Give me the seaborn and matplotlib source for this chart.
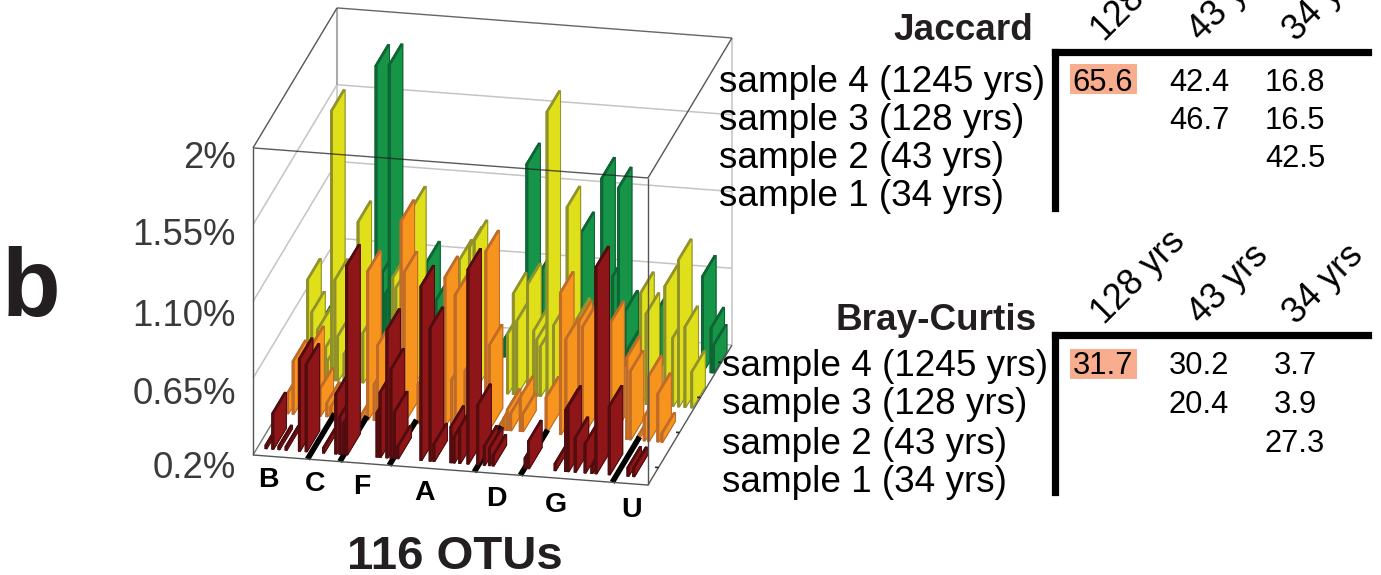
import numpy as np
import pandas as pd
import matplotlib
matplotlib.use("Agg")
import matplotlib.pyplot as plt
from matplotlib.colors import ListedColormap
from matplotlib.patches import Rectangle
import seaborn as sns

# ---------- data ----------
s1_otu = [2.3, 4.3, 6.1, 8.2, 12.1, 14.1, 19.2, 22.8, 24, 25, 26, 34.9, 35.8, 37.8, 39, 40, 41, 47.8, 50.5, 51.6,
          56.6, 57.5, 59.2, 61.6, 64.5, 66.4, 67.9, 69, 78.4, 79.4, 87.2, 90.3, 91, 93.1, 96, 98, 99.2, 103.1, 108.6, 110.3]
s1_val = [.22, .41, .22, .22, .74, .71, .23, .55, .42, .38, 1.31, .46, .58, .95, .72, .47, .27, 1.22, .98, .3,
          .41, .35, .41, 1.34, .55, .31, .3, .26, .26, .36, .24, .56, .58, .4, .37, .24, 1.41, .6, .25, .25]
s2_otu = [2.5, 4.1, 9.3, 12, 14, 15.2, 24, 26, 27.9, 28.9, 35.8, 36.7, 40.8, 48.7, 50.6, 51.7, 54.6, 60.7, 61.7,
          64.6, 66, 67, 68, 70.8, 71.5, 78.4, 82.6, 84.2, 88, 89.1, 97.4, 102.1, 103.1, 105.3, 107.2, 108.5, 111.2, 112.4]
s2_val = [.32, .51, .6, .36, .28, .26, .22, 1.07, .41, .64, 1.38, 1.08, .43, 1.07, .47, .97, .53, 1.24, .69,
          .22, .27, .32, .3, .4, .3, .41, 1.03, .76, .87, .84, .88, .68, .6, .22, .34, .58, .48, .25]
s3_otu = [2.2, 3.4, 5.1, 7.5, 8, 9.2, 10.2, 11, 12.9, 17, 18.4, 27.2, 28.1, 33, 46.7, 49.7, 51.1, 60.9, 62.6, 63.6,
          66.8, 68.6, 69.5, 70.5, 72.5, 74.4, 78.4, 81.3, 82, 100, 101.6, 107.1, 109.4, 111.1, 113, 115]
s3_val = [.78, .59, .49, .39, .31, 1.78, .79, .46, .36, 1.14, .49, .83, .77, 1.25, .96, 1.04, 1.08, .55, .79, .63,
          .85, .58, .53, .49, 1.87, .62, 1.32, .67, .62, .85, .73, .9, .6, 1.06, .67, .41]
s4_otu = [1.4, 16.1, 18, 19, 20, 31, 33.7, 53.7, 60.4, 64.8, 76.3, 82.4, 85.6, 87.3, 89.2, 90, 99.3, 112, 114.5, 115.2]
s4_val = [.37, 1.85, .64, .52, 1.86, .72, .5, .3, 1.34, .73, .96, 1.29, .72, 1.24, .52, .3, .56, .76, .46, .36]
phylum_edges = [16, 25.5, 40, 65, 78.5, 105.5]
phylum_names = ["B", "C", "F", "A", "D", "G", "U"]
z_ticks = [0.2, 0.65, 1.10, 1.55, 2.0]
z_labels = ["0.2%", "0.65%", "1.10%", "1.55%", "2%"]

samples = ["sample 4 (1245 yrs)", "sample 3 (128 yrs)", "sample 2 (43 yrs)", "sample 1 (34 yrs)"]
cols = ["128 yrs", "43 yrs", "34 yrs"]
jaccard = [[65.6, 42.4, 16.8], [np.nan, 46.7, 16.5], [np.nan, np.nan, 42.5], [np.nan, np.nan, np.nan]]
bray = [[31.7, 30.2, 3.7], [np.nan, 20.4, 3.9], [np.nan, np.nan, 27.3], [np.nan, np.nan, np.nan]]

# ---------- style ----------
sns.set_theme(style="white")
plt.rcParams["font.family"] = ["Liberation Sans", "DejaVu Sans"]
INK = "#231f20"
W, H = 1381, 575
fig = plt.figure(figsize=(W / 100, H / 100), dpi=100, facecolor="white")

# ---------- 3D bars with an oblique projection ----------
ax = fig.add_axes([200 / W, 0, 575 / W, 1], projection="3d")
ax.set_axis_off()
ax.patch.set_alpha(0)
ax.computed_zorder = False

P = np.array([
    [3.405, 21.0, 0.0, 253.0],
    [-0.259, 35.0, 170.6, H - 455.0 - 0.2 * 170.6],
    [-0.05, 0.2, -0.01, -3.0],
    [0.0, 0.0, 0.0, 1.0],
])


def oblique_proj():
    ax.apply_aspect()
    t = ax.transData.get_matrix()
    T = np.array([[t[0, 0], t[0, 1], 0, t[0, 2]],
                  [t[1, 0], t[1, 1], 0, t[1, 2]],
                  [0, 0, 1, 0],
                  [0, 0, 0, 1.0]])
    return np.linalg.inv(T) @ P


ax.get_proj = oblique_proj

z_order = [10]


def line(xs, ys, zs, **kw):
    z_order[0] += 1
    ax.plot(xs, ys, zs, zorder=z_order[0], clip_on=False, solid_capstyle="butt", **kw)


BACK = dict(color="#c4c4c4", lw=1.1)
for z in z_ticks[1:-1]:
    line([0, 116], [4, 4], [z, z], **BACK)
    line([0, 0], [0, 4], [z, z], **BACK)
line([0, 116], [4, 4], [.2, .2], **BACK)
line([116, 116], [4, 4], [.2, 2], **BACK)
line([0, 0], [4, 4], [1.55, 2], color="#aaaaaa", lw=1.5)
line([0, 0], [4, 4], [.2, 1.55], color="#c4c4c4", lw=1.1)
line([0, 116], [4, 4], [2, 2], color="#666666", lw=1)
line([0, 0], [0, 4], [2, 2], color="#555555", lw=1)
line([116, 116], [0, 4], [2, 2], color="#555555", lw=1)
line([0, 0], [0, 4], [.2, .2], color="#777777", lw=1)

BAR_D = 0.6
BAR_W = 0.55
rows = [
    (s4_otu, s4_val, 3, "#169447", "#0f6b36", "#0e6433"),
    (s3_otu, s3_val, 2, "#dfe01a", "#8f8f2a", "#93932c"),
    (s2_otu, s2_val, 1, "#f7941d", "#c96a25", "#bd6c2b"),
    (s1_otu, s1_val, 0, "#8e1619", "#5a0e10", "#4f0c0e"),
]
for otu, val, row, face, dark, edge in rows:
    if row == 0:
        for e in phylum_edges:
            line([e, e], [0, 1.3], [.2, .2], color="black", lw=4)
    for x, v in sorted(zip(otu, val)):
        z_order[0] += 1
        # faces: bottom, top, front, back, left, right
        ax.bar3d([x], [row + 0.2], [0.2], BAR_W, BAR_D, v - 0.2,
                 color=[dark, dark, dark, dark, dark, face],
                 edgecolor=edge, linewidth=0.7, shade=False, zorder=z_order[0])

FRONT = dict(color="#222222", lw=1, alpha=0.75)
line([0, 116], [0, 0], [2, 2], **FRONT)
line([0, 0], [0, 0], [.2, 2], color="#555555", lw=1)
line([116, 116], [0, 0], [.2, 2], color="#555555", lw=1)
line([0, 116], [0, 0], [.2, .2], color="#555555", lw=1)
line([116, 116], [0, 4], [.2, .2], color="#555555", lw=1)
for y in [.5, 1.5, 2.5, 3.5]:
    line([115, 116], [y, y], [.2, .2], color="#222222", lw=1.2)


def px_text(x, y, s, **kw):
    fig.text(x / W, 1 - y / H, s, **kw)


for yp, lab in zip([468, 395, 316, 235, 158], z_labels):
    px_text(236, yp, lab, ha="right", va="center", fontsize=26.3, color="#3a3a3c")
for xp, yp, name in zip([268, 315, 362, 425, 496, 556, 632], [480, 484, 487, 493, 499, 505, 510], phylum_names):
    px_text(xp, yp, name, ha="center", va="center", fontsize=20.5, fontweight="bold", color="black")
px_text(455, 557, "116 OTUs", ha="center", va="center", fontsize=34, fontweight="bold", color=INK)
px_text(31, 291, "b", ha="center", va="center", fontsize=69, fontweight="bold", color=INK)
px_text(1033, 30, "Jaccard", ha="right", va="center", fontsize=26.6, fontweight="bold", color=INK)
px_text(1037, 320, "Bray-Curtis", ha="right", va="center", fontsize=26.6, fontweight="bold", color=INK)


# ---------- distance tables ----------
def table(values, top, bottom, row_h, label_x, box_shift):
    df = pd.DataFrame(values, index=samples, columns=cols)
    left, right = 1055, 1368
    t = fig.add_axes([left / W, 1 - bottom / H, (right - left) / W, (bottom - top) / H])
    sns.heatmap(df, ax=t, mask=df.isna(), annot=True, fmt=".1f", cbar=False,
                cmap=ListedColormap(["white"]), annot_kws={"fontsize": 22.2, "color": "black"})
    col_w = 96
    t.set_xlim(0, (right - left) / col_w)
    y0 = -(31 / row_h - 0.5)
    t.set_ylim(y0 + (bottom - top) / row_h, y0)
    t.xaxis.tick_top()
    t.tick_params(length=0)
    t.set_xticks([0.57, 1.58, 2.57])
    t.set_xticklabels(cols, rotation=45, ha="left", va="bottom", rotation_mode="anchor", fontsize=25.6, color="black")
    t.tick_params(axis="x", pad=3)
    t.set_yticklabels(samples, rotation=0, ha="left", va="center", fontsize=26.6, color="black")
    t.tick_params(axis="y", pad=(left - label_x) * 0.72)
    t.patch.set_alpha(0)
    for side in t.spines:
        t.spines[side].set_visible(side in ("top", "left"))
        t.spines[side].set_color("black")
        t.spines[side].set_linewidth(5.2)
    # highlighted largest distance in the table
    t.add_patch(Rectangle((0.156, 0.5 - box_shift - 15 / row_h), 0.70, 30 / row_h,
                          facecolor="#f7ad8e", edgecolor="none", zorder=2.5))
    return t


table(jaccard, 52, 208, 38, 719, 0.1)
table(bray, 335, 492, 39, 722, 0.05)

fig.savefig("out.png", dpi=100)
